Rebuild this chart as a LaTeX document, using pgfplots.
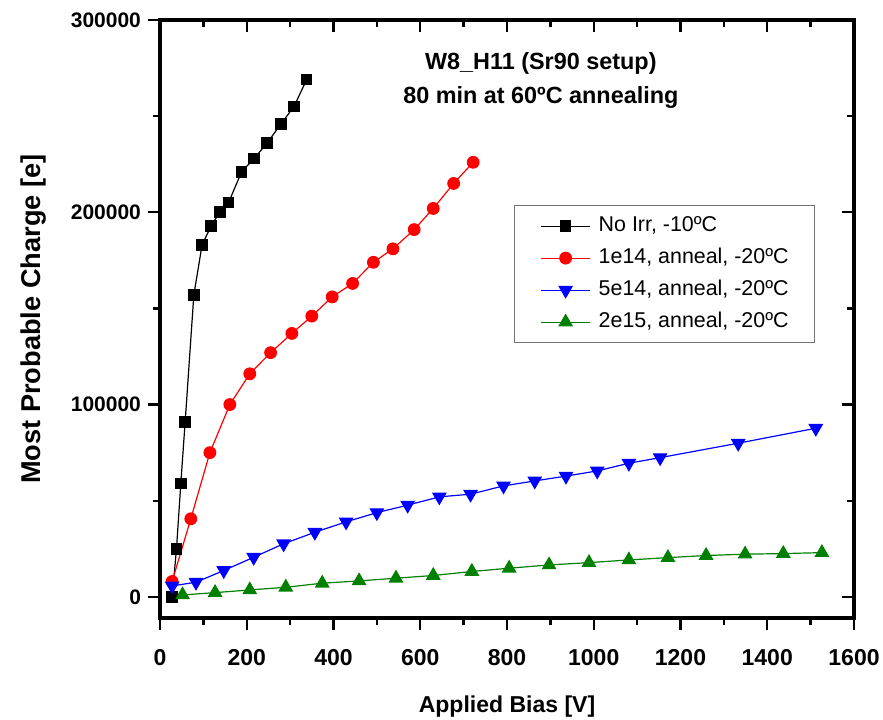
\documentclass[border=0pt]{standalone}
\usepackage{pgfplots}
\pgfplotsset{compat=1.18}
\usepackage{fontspec}
\setmainfont{Liberation Sans}
\definecolor{ogreen}{RGB}{0,128,0}
\begin{document}
\begin{tikzpicture}
\useasboundingbox (-80pt,-50.5pt) rectangle (361.5pt,309pt);
% mirror axis: ticks on top and right, pointing inward
\begin{axis}[
  at={(0pt,0pt)}, anchor=south west,
  scale only axis, width=347pt, height=299pt,
  xmin=0, xmax=1600, ymin=-11000, ymax=300000,
  axis line style={line width=2pt},
  xtick={0,200,...,1600}, ytick={0,100000,200000,300000},
  minor x tick num=1, minor y tick num=1,
  tick align=inside, xtick pos=right, ytick pos=right,
  scaled ticks=false,
  xticklabels={}, yticklabels={},
  major tick length=6pt, minor tick length=3.5pt,
  tick style={black, line width=1.2pt},
]
\end{axis}
\begin{axis}[
  at={(0pt,0pt)}, anchor=south west,
  scale only axis, width=347pt, height=299pt,
  xmin=0, xmax=1600, ymin=-11000, ymax=300000,
  axis line style={line width=2pt},
  xtick={0,200,...,1600}, ytick={0,100000,200000,300000},
  minor x tick num=1, minor y tick num=1,
  tick align=outside, xtick pos=left, ytick pos=left,
  major tick length=6pt, minor tick length=3.5pt,
  tick style={black, line width=1.2pt},
  /pgf/number format/assume math mode=true,
  scaled ticks=false,
  xticklabel style={font=\fontsize{11.5}{12}\selectfont\bfseries, /pgf/number format/1000 sep={}, yshift=-6pt},
  yticklabel style={font=\fontsize{10.5}{12}\selectfont\bfseries, /pgf/number format/fixed, /pgf/number format/1000 sep={}},
  xlabel={Applied Bias [V]},
  ylabel={Most Probable Charge [e]},
  xlabel style={font=\fontsize{11.5}{12}\selectfont\bfseries, at={(axis description cs:0.5,-0.1572)}, anchor=base},
  ylabel style={font=\fontsize{13.6}{14}\selectfont\bfseries, at={(axis description cs:-0.1729,0.5)}, anchor=base},
  legend image code/.code={\draw[mark repeat=2,mark phase=2] plot coordinates {(0pt,0pt) (12.25pt,0pt) (24.5pt,0pt)};},
  legend cell align=left,
  legend style={at={(0.510,0.6906)}, anchor=north west, draw=black!55, line width=0.6pt,
    font=\fontsize{10.7}{12}\selectfont, inner xsep=13pt, inner ysep=5pt, row sep=5.5pt,
    nodes={inner sep=0pt, text height=8pt, text depth=2.5pt},
    /tikz/every odd column/.append style={column sep=4pt}},
]
\addplot[black, line width=0.6pt, mark=square*, mark size=2.6pt] coordinates {
(28,0) (38,25000) (48,59000) (58,91000) (78,157000) (97,183000) (118,193000)
(138,200000) (158,205000) (188,221000) (217,228000) (247,236000) (279,246000)
(309,255000) (338,269000)};
\addlegendentry{No Irr, -10ºC}
\addplot[red, line width=0.6pt, mark=*, mark size=2.9pt] coordinates {
(28,8000) (71,40600) (115,75000) (161,100000) (207,116000) (255,127000)
(304,137000) (350,146000) (397,156000) (444,163000) (492,174000) (537,181000)
(586,191000) (630,202000) (677,215000) (722,226000)};
\addlegendentry{1e14, anneal, -20ºC}
\addplot[blue, line width=0.6pt, mark=triangle*, mark size=3.7pt, mark options={rotate=180}] coordinates {
(28,5700) (83,7600) (147,13700) (216,20600) (285,27600) (357,33600) (429,39000)
(500,43800) (571,47700) (644,52000) (716,53400) (792,57700) (864,60300)
(936,62800) (1008,65500) (1081,69500) (1153,72400) (1333,79900) (1512,87700)};
\addlegendentry{5e14, anneal, -20ºC}
\addplot[ogreen, line width=0.6pt, mark=triangle*, mark size=3.7pt] coordinates {
(52,1000) (127,2200) (207,3600) (290,5000) (374,7100) (459,8300) (544,9700)
(630,11100) (719,13200) (805,14900) (897,16600) (989,17800) (1081,19200)
(1171,20400) (1259,21500) (1349,22200) (1437,22500) (1526,23000)};
\addlegendentry{2e15, anneal, -20ºC}
\node[font=\fontsize{11.7}{14}\selectfont\bfseries, anchor=base] at (axis cs:878,274000) {W8\_H11 (Sr90 setup)};
\node[font=\fontsize{11.7}{14}\selectfont\bfseries, anchor=base] at (axis cs:878,256800) {80 min at 60ºC annealing};
\end{axis}
\end{tikzpicture}
\end{document}
